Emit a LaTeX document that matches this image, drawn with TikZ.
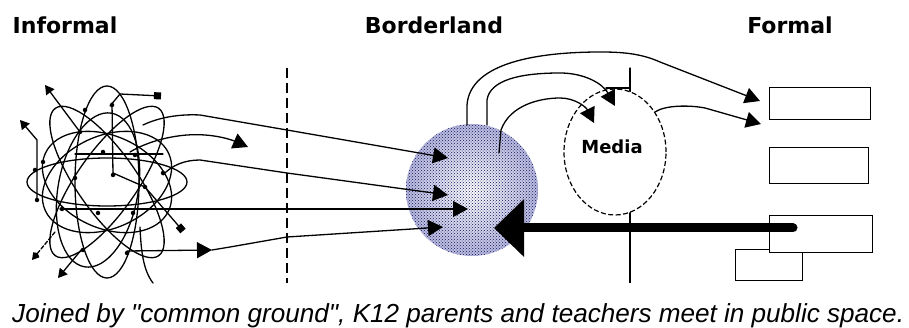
\documentclass[tikz,border=0pt]{standalone}
\usepackage{fontspec}
\newfontfamily\lblfont{DejaVu Sans}
\newfontfamily\capfont{Liberation Sans}
\usetikzlibrary{arrows.meta,patterns,shapes.geometric}
\definecolor{sphouter}{RGB}{182,184,222}
\definecolor{sphdots}{RGB}{20,20,90}
\begin{document}
\begin{tikzpicture}[x=1pt,y=-1pt,
  thin line/.style={line width=1.3pt, line cap=round, line join=round},
  hd/.style={thin line, -{Triangle[length=15pt,width=16pt]}},
  smallhd/.style={thin line, -{Triangle[length=9pt,width=10pt]}},
  sqhd/.style={thin line, -{Square[length=7pt,width=7pt]}},
  kitehd/.style={thin line, -{Kite[length=9pt,width=8pt]}},
  title/.style={font=\lblfont\bfseries\fontsize{22}{26}\selectfont, anchor=base, inner sep=0pt},
  boxnode/.style={draw, line width=1.3pt, fill=white, inner sep=0pt, anchor=north west},
  dot/.style={circle, fill, inner sep=0pt, minimum size=4.5pt},
]
\useasboundingbox (0,0) rectangle (909,328);
\fill[white] (0,0) rectangle (909,328);

% titles
\node[title] (tInf) at (65,34) {Informal};
\node[title] (tBor) at (434,34) {Borderland};
\node[title] (tFor) at (790,34) {Formal};

% divider lines
\coordinate (dTop) at (287,68);
\coordinate (dBot) at (287,283);
\draw[line width=1.3pt, dash pattern=on 10pt off 5pt] (dTop) -- (dBot);
\coordinate (vTop) at (630,68);
\coordinate (vBot) at (630,283);
\draw[line width=1.3pt] (vTop) -- (vBot);

% media ellipse
\node[draw, ellipse, fill=white, line width=1.2pt, dash pattern=on 5pt off 2.5pt,
      minimum width=102pt, minimum height=126pt, inner sep=0pt] (media) at (615,152) {};
\node[font=\lblfont\bfseries\fontsize{18}{22}\selectfont, anchor=base, inner sep=0pt] (mlab) at (612,154) {Media};
\coordinate (tickA) at (630,88);
\coordinate (tickB) at (606,88);
\draw[thin line] (vTop) -- (tickA) -- (tickB);

% sphere
\node[circle, minimum size=132pt, inner sep=0pt,
      shade, inner color=white, outer color=sphouter,
      postaction={pattern=crosshatch dots, pattern color=sphdots}] (sph) at (472,190) {};

% formal boxes
\node[boxnode, minimum width=101pt, minimum height=32pt] (r1) at (769,87) {};
\node[boxnode, minimum width=99pt, minimum height=36pt] (r2) at (769,147) {};
\node[boxnode, minimum width=67pt, minimum height=31pt] (r4) at (735,249) {};
\node[boxnode, minimum width=103pt, minimum height=37pt] (r3) at (769,215) {};

% ---------- informal tangle ----------
\coordinate (tc) at (107,182);
\begin{scope}[thin line]
  \draw (tc) ellipse [x radius=80, y radius=24];
  \draw (tc) ellipse [x radius=32, y radius=96];
  \draw[rotate around={55:(tc)}] (tc) ellipse [x radius=90, y radius=30];
  \draw[rotate around={-55:(tc)}] (tc) ellipse [x radius=90, y radius=30];
  \draw[rotate around={25:(tc)}] (tc) ellipse [x radius=68, y radius=46];
  \draw[rotate around={-25:(tc)}] (tc) ellipse [x radius=68, y radius=46];
  \draw[rotate around={80:(98,190)}] (98,190) ellipse [x radius=78, y radius=40];
  \draw (75,154) -- (163,154);
  \draw (112,103) -- (113,175);
  \draw (140,227) .. controls (141,250) and (143,270) .. (153,283);
\end{scope}
\foreach \p in {(85,110),(112,105),(80,132),(103,152),(135,155),(163,173),(113,175),
                (43,162),(35,170),(75,178),(145,187),(62,209),(98,213),(133,213),
                (37,200),(127,253),(83,250)}
  \node[dot] at \p {};

\coordinate (s1a) at (80,132);  \coordinate (s1b) at (45,85);
\draw[smallhd] (s1a) -- (s1b);
\coordinate (s2a) at (37,200);  \coordinate (s2m) at (37,140); \coordinate (s2b) at (20,120);
\draw[smallhd] (s2a) -- (s2m) -- (s2b);
\coordinate (s3a) at (110,106); \coordinate (s3m) at (120,94); \coordinate (s3b) at (161,96);
\draw[sqhd] (s3a) -- (s3m) -- (s3b);
\coordinate (s4a) at (113,173); \coordinate (s4m) at (145,187); \coordinate (s4b) at (183,231);
\draw[sqhd] (s4a) -- (s4m) -- (s4b);
\coordinate (s5a) at (55,232);  \coordinate (s5b) at (32,260);
\draw[kitehd, dash pattern=on 4pt off 2pt] (s5a) -- (s5b);
\coordinate (s6a) at (82,249);  \coordinate (s6b) at (58,278);
\draw[smallhd] (s6a) -- (s6b);

% ---------- arrows from informal into sphere ----------
\coordinate (l1a) at (143,125); \coordinate (l1b) at (200,115); \coordinate (l1c) at (287,130);
\coordinate (h1) at (448,158);
\draw[hd] (l1a) .. controls (160,117) and (180,114) .. (l1b) -- (l1c) -- (h1);

\coordinate (l5a) at (130,152); \coordinate (l5b) at (205,135); \coordinate (l5c) at (248,147);
\draw[hd] (l5a) .. controls (150,140) and (180,133) .. (l5b) .. controls (220,136) and (232,140) .. (l5c);

\coordinate (l2a) at (163,175); \coordinate (l2b) at (200,160); \coordinate (l2c) at (287,173);
\coordinate (h2) at (448,195);
\draw[hd] (l2a) .. controls (172,165) and (185,160) .. (l2b) -- (l2c) -- (h2);

\coordinate (l3a) at (60,209); \coordinate (h3) at (468,209);
\draw[hd] (l3a) -- (h3);

\coordinate (l4a) at (127,251); \coordinate (l4b) at (212,250);
\draw[hd] (l4a) -- (l4b);
\coordinate (l4c) at (230,247); \coordinate (l4d) at (287,237); \coordinate (h4) at (443,227);
\draw[hd] (l4b) -- (l4c) -- (l4d) -- (h4);

% ---------- arrows from sphere ----------
\coordinate (a1s) at (467,125); \coordinate (a1m) at (600,52); \coordinate (a1e) at (760,101);
\draw[hd] (a1s) -- (467,105) .. controls (470,62) and (540,52) .. (a1m)
          .. controls (620,52) and (640,53) .. (660,62) -- (a1e);
\coordinate (a2s) at (487,125); \coordinate (a2m) at (560,73); \coordinate (a2e) at (615,106);
\draw[hd] (a2s) -- (487,100) .. controls (490,80) and (520,73) .. (a2m)
          .. controls (585,73) and (603,84) .. (a2e);
\coordinate (a3s) at (499,153); \coordinate (a3m) at (560,98); \coordinate (a3e) at (594,123);
\draw[hd] (a3s) -- (501,130) .. controls (510,105) and (540,98) .. (a3m)
          .. controls (575,98) and (586,107) .. (a3e);
\coordinate (a4s) at (655,112); \coordinate (a4e) at (761,124);
\draw[hd] (a4s) .. controls (665,105) and (690,105) .. (705,108) -- (a4e);

% thick arrow from formal into sphere
\coordinate (tkS) at (793,228); \coordinate (tkE) at (494,228);
\draw[line width=9pt, line cap=round, -{Triangle[length=30pt,width=56pt]}] (tkS) -- (tkE);

% caption
\node[font=\capfont\itshape\fontsize{26.1}{30}\selectfont, anchor=base west, inner sep=0pt] (cap) at (12,322)
  {Joined by "common ground", K12 parents and teachers meet in public space.};
\end{tikzpicture}
\end{document}
